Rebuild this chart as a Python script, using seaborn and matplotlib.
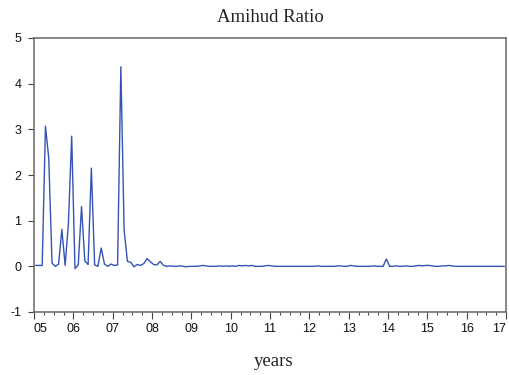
import numpy as np
import pandas as pd
import matplotlib
matplotlib.use("Agg")
import matplotlib.pyplot as plt
from matplotlib.ticker import MultipleLocator, FixedLocator
import seaborn as sns

# Monthly observations, Jan 2005 - Dec 2016
start_year = 2005
amihud_2005 = [0.02, 0.02, 0.02, 3.07, 2.37, 0.07, 0.00, 0.05, 0.81, 0.02, 0.94, 2.85]
amihud_2006 = [-0.05, 0.03, 1.31, 0.12, 0.04, 2.15, 0.03, 0.00, 0.40, 0.05, 0.00, 0.05]
amihud_2007 = [0.02, 0.03, 4.37, 0.79, 0.11, 0.09, -0.01, 0.04, 0.02, 0.06, 0.17, 0.10]
amihud_2008 = [0.04, 0.03, 0.11, 0.02, 0.00, 0.01, 0.00, 0.00, 0.01, 0.00, -0.01, 0.00]
amihud_2009 = [0.00, 0.00, 0.01, 0.02, 0.01, 0.00, 0.00, 0.00, 0.01, 0.00, 0.01, 0.00]
amihud_2010 = [0.01, 0.00, 0.02, 0.01, 0.02, 0.01, 0.02, 0.00, 0.00, 0.00, 0.01, 0.02]
amihud_2011 = [0.01, 0.00, 0.00, 0.00, 0.00, 0.00, 0.00, 0.00, 0.00, 0.00, 0.00, 0.00]
amihud_2012 = [0.00, 0.00, 0.01, 0.00, 0.00, 0.00, 0.00, 0.00, 0.01, 0.01, 0.00, 0.00]
amihud_2013 = [0.02, 0.01, 0.00, 0.00, 0.00, 0.00, 0.00, 0.01, 0.00, 0.00, 0.00, 0.16]
amihud_2014 = [0.00, 0.00, 0.01, 0.00, 0.00, 0.01, 0.00, 0.00, 0.01, 0.02, 0.01, 0.02]
amihud_2015 = [0.02, 0.01, 0.00, 0.00, 0.01, 0.01, 0.02, 0.01, 0.00, 0.00, 0.00, 0.00]
amihud_2016 = [0.00, 0.00, 0.00, 0.00, 0.00, 0.00, 0.00, 0.00, 0.00, 0.00, 0.00, 0.00]

year_labels = ["05", "06", "07", "08", "09", "10", "11", "12", "13", "14", "15", "16", "17"]
y_ticks = [-1, 0, 1, 2, 3, 4, 5]

values = (amihud_2005 + amihud_2006 + amihud_2007 + amihud_2008 + amihud_2009 +
          amihud_2010 + amihud_2011 + amihud_2012 + amihud_2013 + amihud_2014 +
          amihud_2015 + amihud_2016)
df = pd.DataFrame({
    "t": [start_year + (i + 0.5) / 12 for i in range(len(values))],
    "amihud": values,
})

sns.set_theme(style="white")
plt.rcParams["font.family"] = ["Liberation Sans", "DejaVu Sans"]

fig = plt.figure(figsize=(5.09, 3.75), dpi=100)
ax = fig.add_axes([34 / 509, 1 - 312 / 375, 472 / 509, 274 / 375])

sns.lineplot(data=df, x="t", y="amihud", ax=ax, color="#3553b5", linewidth=1.0)

ax.set_xlim(2005, 2017)
ax.set_ylim(-1, 5)
ax.xaxis.set_major_locator(FixedLocator([2005 + k for k in range(len(year_labels))]))
ax.set_xticklabels(year_labels)
ax.xaxis.set_minor_locator(MultipleLocator(0.25))
ax.set_yticks(y_ticks)
ax.set_yticklabels([str(v) for v in y_ticks])

ax.tick_params(axis="both", which="major", direction="out", length=4, width=0.8,
               color="#444444", labelsize=9, labelcolor="#111111",
               bottom=True, left=True, top=False, right=False)
ax.tick_params(axis="x", which="major", length=5, pad=3)
ax.tick_params(axis="x", which="minor", direction="out", length=2.5, width=0.7,
               color="#444444", bottom=True)
ax.tick_params(axis="y", pad=5)
labels = ax.get_xticklabels()
labels[0].set_horizontalalignment("left")
labels[-1].set_horizontalalignment("right")

for s in ax.spines.values():
    s.set_visible(True)
    s.set_color("#666666")
    s.set_linewidth(1.1)

ax.set_xlabel("")
ax.set_ylabel("")
ax.grid(False)

fig.text(270 / 509, 1 - 18 / 375, "Amihud Ratio", ha="center", va="center",
         fontsize=13.5, family=["Liberation Serif", "DejaVu Serif"], color="#222222")
fig.text(274 / 509, 1 - 362 / 375, "years", ha="center", va="center",
         fontsize=13.5, family=["Liberation Serif", "DejaVu Serif"], color="#222222")

fig.savefig("out.png", dpi=100)
